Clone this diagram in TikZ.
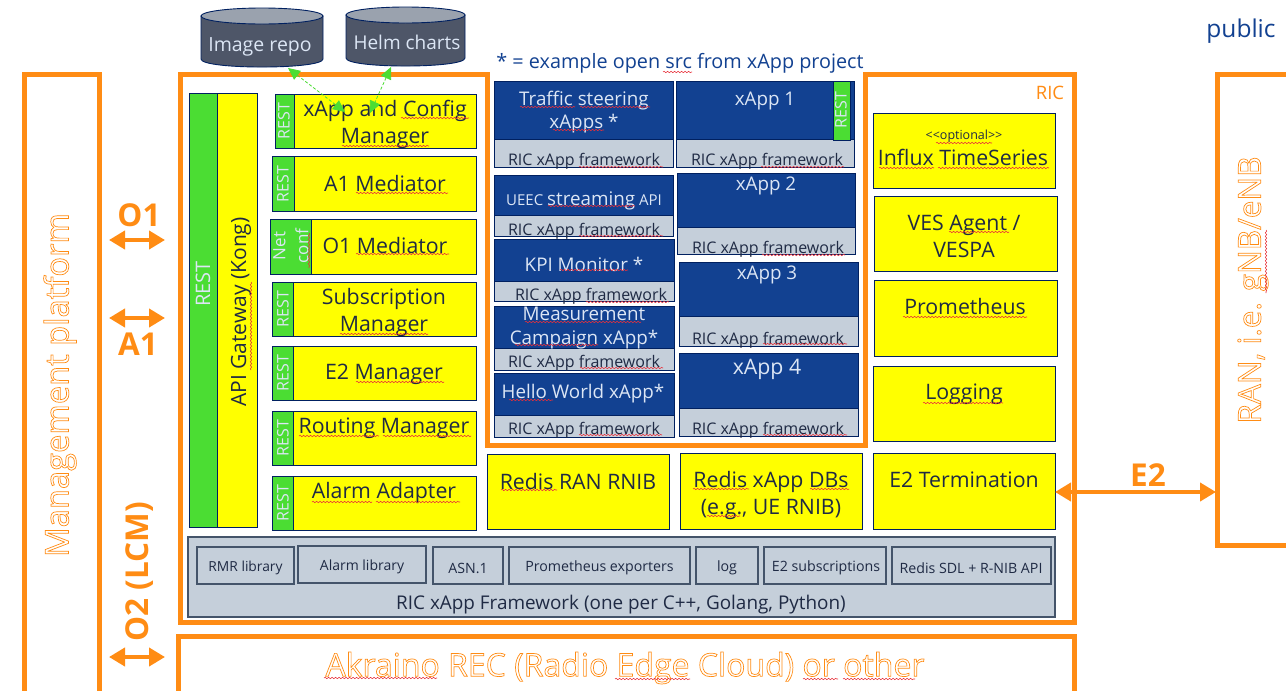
\documentclass[tikz,border=0pt]{standalone}
\usepackage{fontspec}
\setmainfont{Open Sans}
\usetikzlibrary{arrows.meta,decorations.pathmorphing}
\definecolor{org}{HTML}{FF8C14}
\definecolor{ylw}{HTML}{FFFF00}
\definecolor{navy}{HTML}{002060}
\definecolor{blu}{HTML}{124191}
\definecolor{gry}{HTML}{C5CFDA}
\definecolor{slate}{HTML}{44546A}
\definecolor{grn}{HTML}{4BDD33}
\definecolor{cyl}{HTML}{4E5668}
\definecolor{cyltop}{HTML}{9AA2AE}
\definecolor{ink}{HTML}{1F2A44}
\definecolor{pale}{HTML}{DCE6F5}
\definecolor{squig}{HTML}{E8303A}
\tikzset{
 x=1pt,y=-1pt,
 ybox/.style={fill=ylw,draw=navy,line width=.9pt},
 gbox/.style={fill=grn,draw=navy,line width=.9pt},
 bbox/.style={fill=blu,draw=navy,line width=.9pt},
 fbox/.style={fill=gry,draw=navy,line width=.9pt},
 libbox/.style={fill=gry,draw=slate,line width=1.8pt},
 framebox/.style={fill=gry,draw=slate,line width=2pt},
 obox/.style={draw=org,line width=5pt},
 oarrow/.style={draw=org,line width=4.5pt,{Triangle[length=16pt,width=18pt]}-{Triangle[length=16pt,width=18pt]}},
 garrow/.style={draw=grn,densely dashed,line width=.8pt,{Triangle[length=12pt,width=11pt]}-{Triangle[length=12pt,width=11pt]}},
 lbl/.style={inner sep=0pt,outer sep=0pt,align=center,text=ink},
 wlbl/.style={inner sep=0pt,outer sep=0pt,align=center,text=pale},
 big/.style={yshift=-1pt,font=\fontsize{21.3}{27}\selectfont},
 mid/.style={yshift=-2pt,font=\fontsize{18.8}{23.5}\selectfont},
 fw/.style={yshift=-2pt,font=\fontsize{16}{18}\selectfont},
 lib/.style={yshift=-2pt,font=\fontsize{14.2}{16}\selectfont},
 rest/.style={inner sep=0pt,outer sep=0pt,text=pale,rotate=90,font=\fontsize{16}{16}\selectfont},
 otxt/.style={inner sep=0pt,outer sep=0pt,text=org,font=\fontsize{32}{36}\selectfont},
 ohead/.style={inner sep=0pt,outer sep=0pt,text=org,font=\bfseries\fontsize{31.5}{34}\selectfont},
 squigl/.style={draw=squig,line width=.55pt,decorate,decoration={snake,amplitude=.7pt,segment length=3.5pt}},
}
\newcounter{autonode}
\newcommand{\bx}[6]{% name, style, x1,y1,x2,y2
 \pgfmathsetmacro{\mcx}{(#3+#5)/2}\pgfmathsetmacro{\mcy}{(#4+#6)/2}
 \pgfmathsetmacro{\mw}{#5-#3}\pgfmathsetmacro{\mh}{#6-#4}
 \node[#2,inner sep=0pt,outer sep=0pt,minimum width=\mw pt,minimum height=\mh pt] (#1) at (\mcx,\mcy) {};}
\newcommand{\tx}[4]{% x,y,style,text
 \stepcounter{autonode}\node[#3] (t\theautonode) at (#1,#2) {#4};}
\newcommand{\outl}[1]{\special{pdf:code q 1 Tr 0.7 w}#1\special{pdf:code Q}}
\newcommand{\sq}[3]{\draw[squigl] (#1,#3) -- (#2,#3);}
\newcommand{\vq}[3]{\draw[squigl] (#1,#2) -- (#1,#3);}
\newcommand{\cyl}[5]{% name,x1,y1,x2,y2
 \pgfmathsetmacro{\mcx}{(#2+#4)/2}\pgfmathsetmacro{\mcy}{#3+8}\pgfmathsetmacro{\mrx}{(#4-#2)/2}
 \pgfmathsetmacro{\mb}{#5-8}\pgfmathsetmacro{\mbc}{#5+2.7}
 \draw[fill=cyl,draw=navy,line width=.9pt] (#2,\mcy) -- (#2,\mb) .. controls (#2,\mbc) and (#4,\mbc) .. (#4,\mb) -- (#4,\mcy) -- cycle;
 \draw[fill=cyltop,draw=navy,line width=.9pt] (\mcx,\mcy) ellipse [x radius=\mrx pt,y radius=8pt];
 \coordinate (#1) at (\mcx,#5);}
\begin{document}
\begin{tikzpicture}
\clip (0,0) rectangle (1286,691);
\fill[white] (0,0) rectangle (1286,691);
% outer frames
\bx{mgmt}{obox}{24}{74}{99}{700}
\bx{ran}{obox}{1217}{74}{1300}{545}
\bx{rec}{obox}{178}{636}{1074}{700}
\draw[obox] (180,74) -- (487,74) -- (487,445) -- (865,445) -- (865,74) -- (1074,74) -- (1074,622) -- (180,622) -- cycle;
% repos
\cyl{img}{201}{8}{323}{67}
\cyl{helm}{346}{7}{465}{66}
\tx{260}{47}{wlbl,font=\fontsize{19.5}{24}\selectfont}{Image repo}
\tx{407}{42}{wlbl,font=\fontsize{19}{24}\selectfont}{Helm charts}
% left column
\bx{restbar}{gbox}{189}{93}{217}{527}
\bx{gateway}{ybox}{217}{93}{257}{527}
\tx{203}{284}{rest,font=\fontsize{20}{22}\selectfont}{REST}
\tx{241}{312}{lbl,rotate=90,font=\fontsize{21}{24}\selectfont}{API Gateway (Kong)}
% managers
\bx{mg1g}{gbox}{275}{94}{294}{148}\bx{mg1}{ybox}{294}{94}{476}{148}
\bx{mg2g}{gbox}{272}{156}{294}{211}\bx{mg2}{ybox}{294}{156}{476}{211}
\bx{mg3g}{gbox}{270}{219}{311}{274}\bx{mg3}{ybox}{311}{219}{476}{274}
\bx{mg4g}{gbox}{272}{282}{293}{336}\bx{mg4}{ybox}{293}{282}{476}{336}
\bx{mg5g}{gbox}{272}{346}{293}{400}\bx{mg5}{ybox}{293}{346}{476}{400}
\bx{mg6g}{gbox}{272}{411}{293}{465}\bx{mg6}{ybox}{293}{411}{476}{465}
\bx{mg7g}{gbox}{272}{476}{293}{530}\bx{mg7}{ybox}{293}{476}{476}{530}
\tx{284}{121}{rest}{REST}\tx{283}{184}{rest}{REST}\tx{283}{309}{rest}{REST}
\tx{283}{373}{rest}{REST}\tx{283}{438}{rest}{REST}\tx{283}{503}{rest}{REST}
\tx{291}{246}{rest,align=center,font=\fontsize{17}{23}\selectfont}{Net\\conf}
\tx{385}{123}{lbl,big}{xApp and Config\\Manager}
\tx{385}{183}{lbl,big}{A1 Mediator}
\tx{385}{245}{lbl,big}{O1 Mediator}
\tx{384}{311}{lbl,big}{Subscription\\Manager}
\tx{384}{373}{lbl,big}{E2 Manager}
\tx{384}{427}{lbl,big}{Routing Manager}
\tx{384}{492}{lbl,big}{Alarm Adapter}
% xApps left
\bx{a1}{bbox}{494}{81}{673}{139}\bx{a1f}{fbox}{494}{139}{673}{167}
\bx{a2}{bbox}{494}{175}{673}{215}\bx{a2f}{fbox}{494}{215}{673}{236}
\bx{a3}{bbox}{494}{239}{674}{281}\bx{a3f}{fbox}{494}{281}{674}{301}
\bx{a4}{bbox}{494}{306}{674}{348}\bx{a4f}{fbox}{494}{348}{674}{370}
\bx{a5}{bbox}{494}{373}{674}{415}\bx{a5f}{fbox}{494}{415}{674}{437}
\tx{584}{110}{wlbl,mid}{Traffic steering\\xApps *}
\tx{584}{199}{wlbl,yshift=-2pt,font=\fontsize{15}{18}\selectfont}{UEEC {\fontsize{18.8}{20}\selectfont streaming} API}
\tx{584}{262}{wlbl,mid}{KPI Monitor *}
\tx{584}{326}{wlbl,mid}{Measurement\\Campaign xApp*}
\tx{583}{392}{wlbl,mid}{Hello World xApp*}
\tx{584}{159}{lbl,fw}{RIC xApp framework}
\tx{584}{229}{lbl,fw}{RIC xApp framework}
\tx{591}{294}{lbl,fw}{RIC xApp framework}
\tx{584}{361}{lbl,fw}{RIC xApp framework}
\tx{584}{428}{lbl,fw}{RIC xApp framework}
% xApps right
\bx{b1}{bbox}{676}{81}{854}{139}\bx{b1f}{fbox}{676}{139}{854}{167}\bx{b1r}{gbox}{833}{81}{850}{140}
\bx{b2}{bbox}{677}{173}{855}{227}\bx{b2f}{fbox}{677}{227}{855}{254}
\bx{b3}{bbox}{679}{262}{858}{316}\bx{b3f}{fbox}{679}{316}{858}{346}
\bx{b4}{bbox}{679}{353}{858}{408}\bx{b4f}{fbox}{679}{408}{858}{436}
\tx{765}{99}{wlbl,mid}{xApp 1}
\tx{841}{110}{rest}{REST}
\tx{766}{184}{wlbl,mid}{xApp 2}
\tx{767}{273}{wlbl,mid}{xApp 3}
\tx{767}{368}{wlbl,big}{xApp 4}
\tx{767}{159}{lbl,fw}{RIC xApp framework}
\tx{768}{247}{lbl,fw}{RIC xApp framework}
\tx{768}{338}{lbl,fw}{RIC xApp framework}
\tx{768}{428}{lbl,fw}{RIC xApp framework}
% right column
\bx{inf}{ybox}{873}{113}{1055}{188}
\bx{ves}{ybox}{874}{196}{1057}{271}
\bx{prom}{ybox}{874}{280}{1057}{356}
\bx{logg}{ybox}{873}{366}{1055}{441}
\bx{e2t}{ybox}{873}{453}{1055}{529}
\bx{rran}{ybox}{487}{454}{669}{529}
\bx{rxa}{ybox}{680}{453}{862}{529}
\tx{964}{136}{lbl,font=\fontsize{12.5}{14}\selectfont}{<{}<optional>{}>}
\tx{963}{156}{lbl,big}{Influx TimeSeries}
\tx{964}{235}{lbl,big}{VES Agent /\\VESPA}
\tx{965}{306}{lbl,big}{Prometheus}
\tx{964}{393}{lbl,big}{Logging}
\tx{964}{479}{lbl,big}{E2 Termination}
\tx{578}{481}{lbl,big}{Redis RAN RNIB}
\tx{771}{494}{lbl,big}{Redis xApp DBs\\(e.g., UE RNIB)}
% framework
\bx{frame}{framebox}{188}{537}{1055}{617}
\bx{l1}{libbox}{197}{547}{294}{584}
\bx{l2}{libbox}{298}{546}{426}{583}
\bx{l3}{libbox}{433}{547}{503}{584}
\bx{l4}{libbox}{509}{547}{690}{584}
\bx{l5}{libbox}{696}{547}{758}{584}
\bx{l6}{libbox}{764}{547}{886}{584}
\bx{l7}{libbox}{892}{547}{1051}{584}
\tx{245.5}{566}{lbl,lib,font=\fontsize{13.8}{16}\selectfont}{RMR library}
\tx{362}{565}{lbl,lib,font=\fontsize{14}{16}\selectfont}{Alarm library}
\tx{468}{566}{lbl,lib}{ASN.1}
\tx{599.5}{566}{lbl,lib}{Prometheus exporters}
\tx{727}{566}{lbl,lib}{log}
\tx{826}{566}{lbl,lib}{E2 subscriptions}
\tx{971}{566}{lbl,lib}{Redis SDL + R-NIB API}
\tx{621}{605}{lbl,font=\fontsize{18.9}{22}\selectfont}{RIC xApp Framework (one per C++, Golang, Python)}
% orange labels
\tx{60}{385}{otxt,rotate=90,font=\fontsize{32.7}{36}\selectfont}{\outl{Management platform}}
\tx{1253}{290}{otxt,rotate=90,font=\fontsize{31.5}{36}\selectfont}{\outl{RAN, i.e. gNB/eNB}}
\tx{625}{668}{otxt}{\outl{Akraino REC (Radio Edge Cloud) or other}}
\tx{1050}{93}{inner sep=0pt,text=org,font=\fontsize{18.5}{20}\selectfont}{RIC}
\tx{1241}{31}{inner sep=0pt,text=blu,font=\fontsize{24.5}{26}\selectfont}{public}
\tx{680}{63}{inner sep=0pt,text=blu,font=\fontsize{19.8}{22}\selectfont}{* = example open src from xApp project}
\tx{139}{215}{ohead}{O1}
\tx{138}{344}{ohead}{A1}
\tx{140}{572}{ohead,rotate=90}{O2 (LCM)}
\tx{1148}{475}{ohead}{E2}
% connectors
\coordinate (o1l) at (109,240); \coordinate (o1r) at (165,240);
\coordinate (a1l) at (109,318); \coordinate (a1r) at (165,318);
\coordinate (o2l) at (109,657); \coordinate (o2r) at (165,657);
\coordinate (e2r) at (1216,492);
\draw[oarrow] (o1l) -- (o1r);
\draw[oarrow] (a1l) -- (a1r);
\draw[oarrow] (o2l) -- (o2r);
\draw[oarrow] (e2t.east |- e2r) -- (e2r);
\coordinate (imgb) at (288,68); \coordinate (imgm) at (345,112);
\coordinate (helmb) at (391,67); \coordinate (helmm) at (370,113);
\draw[garrow] (imgb) -- (imgm);
\draw[garrow] (helmb) -- (helmm);
% spell-check marks
\sq{401}{469}{118}\sq{342}{429}{146}\sq{356}{448}{193}\sq{356}{449}{254}
\sq{340}{428}{334}\sq{356}{444}{382}\sq{299}{379}{436}\sq{383}{471}{436}
\sq{312}{372}{502}\sq{376}{460}{502}
\vq{309}{233}{268}\vq{251}{282}{370}
\sq{520}{575}{107}\sq{580}{650}{107}\sq{553}{604}{130}
\sq{579}{663}{167}\sq{761}{844}{167}\sq{548}{635}{206}\sq{579}{663}{236}
\sq{762}{845}{255}\sq{560}{628}{270}\sq{586}{669}{302}\sq{525}{641}{322}
\sq{515}{598}{345}\sq{580}{663}{368}\sq{509}{553}{400}\sq{579}{662}{435}
\sq{763}{847}{344}\sq{763}{847}{435}
\sq{501}{557}{490}\sq{693}{749}{489}\sq{810}{849}{489}\sq{707}{740}{516}
\sq{936}{992}{143}\sq{879}{934}{168}\sq{938}{1049}{168}\sq{949}{1009}{232}
\sq{903}{1027}{317}\sq{923}{1003}{403}
\sq{324}{437}{678}\sq{615}{690}{679}\sq{803}{838}{679}\sq{843}{915}{679}
\vq{1266}{230}{293}\sq{663}{692}{72}
\end{tikzpicture}
\end{document}
